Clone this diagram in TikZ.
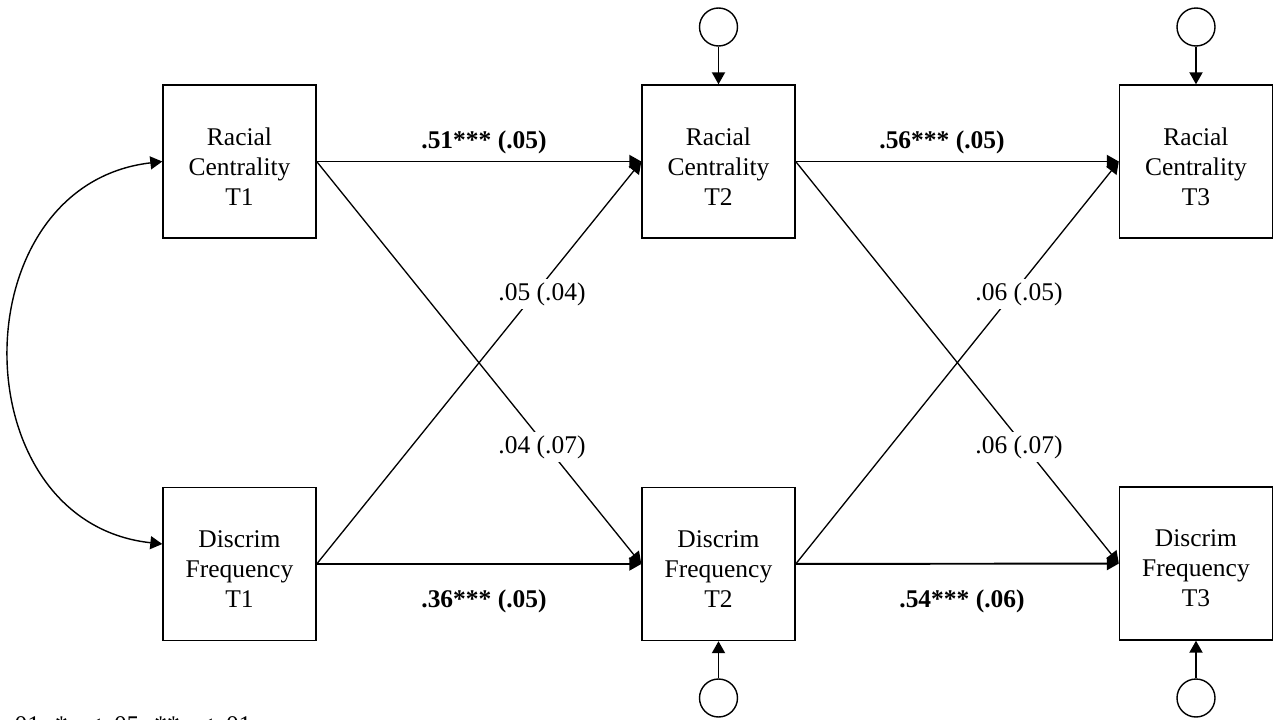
\documentclass[tikz,border=0pt]{standalone}
\usepackage{fontspec}
\setmainfont{Liberation Serif}
\usetikzlibrary{arrows.meta}

\begin{document}
\begin{tikzpicture}[x=0.02cm, y=-0.02cm,
		every node/.style={font=\fontsize{14.5}{17}\selectfont},
		var/.style={draw, line width=0.8pt, minimum width=3.06cm, minimum height=3.06cm, inner sep=0pt,
			label={[align=center, yshift=-0.1cm]center:#1}},
		err/.style={draw, line width=0.8pt, circle, minimum size=0.76cm, inner sep=0pt},
		reg/.style={line width=1.1pt, -{Triangle[length=0.24cm, width=0.26cm]}},
		cross/.style={reg, line width=0.75pt},
		corr/.style={line width=0.8pt, {Triangle[length=0.24cm, width=0.26cm]}-{Triangle[length=0.24cm, width=0.26cm]}},
		coef/.style={fill=white, inner sep=2pt, anchor=base},
		sig/.style={coef, font=\fontsize{14.5}{17}\selectfont\bfseries}]
			%%%%% START %%%%%
			
			\useasboundingbox (0, 0) rectangle (1282, 720);
			
			\node[var={Racial\\Centrality\\T1}] (rc1) at (239.5, 161.5) {};
			\node[var={Discrim\\Frequency\\T1}] (df1) at (239.5, 564) {};
			\node[var={Racial\\Centrality\\T2}] (rc2) at (718.5, 161.5) {};
			\node[var={Discrim\\Frequency\\T2}] (df2) at (718.5, 564) {};
			\node[var={Racial\\Centrality\\T3}] (rc3) at (1196, 161.5) {};
			\node[var={Discrim\\Frequency\\T3}] (df3) at (1196, 563.5) {};
			
			\node[err] (e2) at (718.5, 27) {};
			\node[err] (e3) at (1196, 27) {};
			\node[err] (u2) at (718.5, 698) {};
			\node[err] (u3) at (1196, 698) {};
			
			\draw[reg] (e2) -- (rc2);
			\draw[reg] (e3) -- (rc3);
			\draw[reg] (u2) -- (df2);
			\draw[reg] (u3) -- (df3);
			
			\draw[corr] (rc1.west) .. controls (-41, 185) and (-41, 522) .. ([yshift=0.4cm]df1.west);
			
			\draw[reg] (rc1) -- (rc2);
			\draw[reg] (df1) -- (df2);
			\draw[cross] (rc1.east) -- (df2.west);
			\draw[cross] (df1.east) -- (rc2.west);
			
			\draw[reg] (rc2) -- (rc3);
			\draw[reg] (df2) -- (df3);
			\draw[cross] (rc2.east) -- (df3.west);
			\draw[cross] (df2.east) -- (rc3.west);
			
			\node[sig] (b12r) at (484, 148) {.51*** (.05)};
			\node[sig] (b12d) at (484, 607) {.36*** (.05)};
			\node[coef] (c12a) at (542, 300) {.05 (.04)};
			\node[coef] (c12b) at (542, 453) {.04 (.07)};
			
			\node[sig] (b23r) at (942, 148) {.56*** (.05)};
			\node[sig] (b23d) at (962, 607) {.54*** (.06)};
			\node[coef] (c23a) at (1019, 300) {.06 (.05)};
			\node[coef] (c23b) at (1019, 453) {.06 (.07)};
			
			\node[anchor=base west, inner sep=0pt] (note) at (8, 733) {.01. *\textit{p} < .05. **\textit{p} < .01.};
			
			%%%%% END %%%%%
\end{tikzpicture}
\end{document}
